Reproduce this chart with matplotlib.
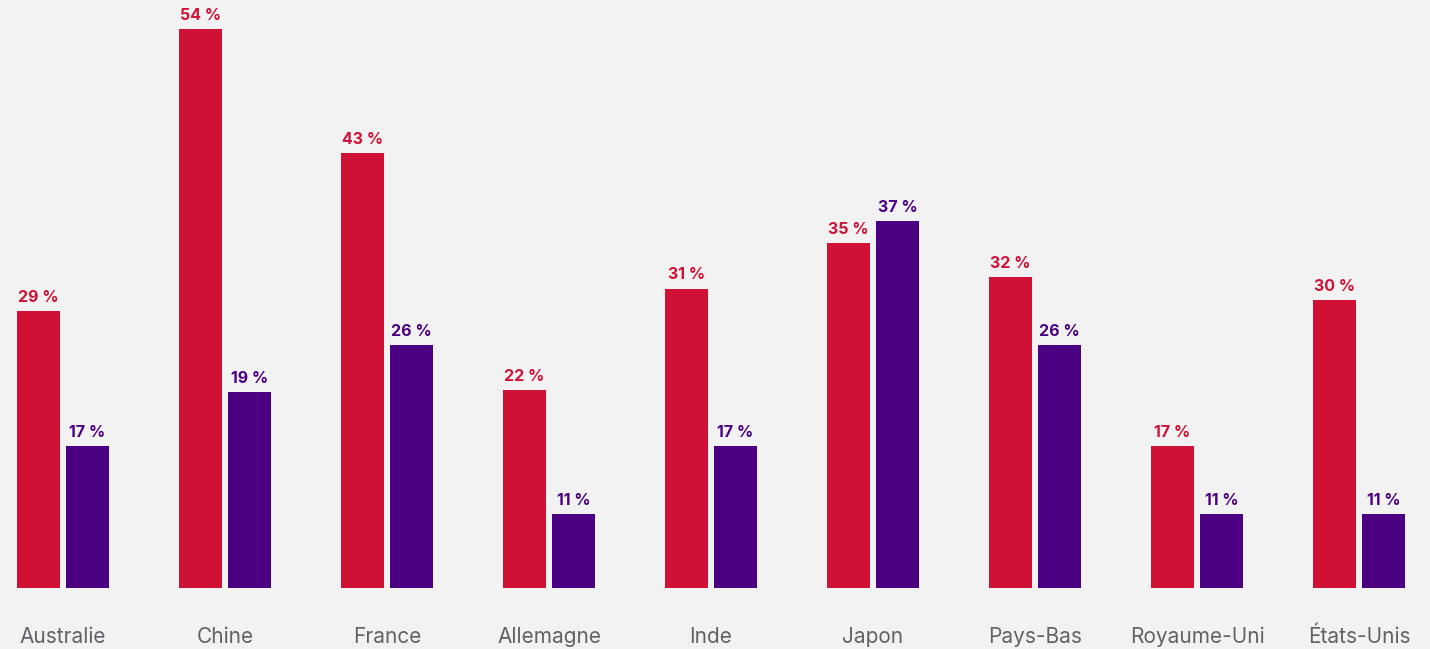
import numpy as np
import matplotlib.pyplot as plt

plt.rcParams['font.family'] = ['Inter', 'DejaVu Sans']

# données
pays = ['Australie', 'Chine', 'France', 'Allemagne', 'Inde', 'Japon',
        'Pays-Bas', 'Royaume-Uni', 'États-Unis']
serie_rouge = [29, 54, 43, 22, 31, 35, 32, 17, 30]
serie_violet = [17, 21.8, 26, 11, 17, 37, 26, 11, 11]  # barre Chine dessinée plus haute que son étiquette
etiq_rouge = ['29 %', '54 %', '43 %', '22 %', '31 %', '35 %', '32 %', '17 %', '30 %']
etiq_violet = ['17 %', '19 %', '26 %', '11 %', '17 %', '37 %', '26 %', '11 %', '11 %']

rouge = '#cf1136'
violet = '#4b0082'
fond = '#f2f2f2'

fig = plt.figure(figsize=(14.30, 6.49), dpi=100, facecolor=fond)
ax = fig.add_axes([0, (649 - 588) / 649, 1, 588 / 649])
ax.set_facecolor(fond)

x = np.arange(len(pays))
w = 43 / 162
d = 49 / 2 / 162
b1 = ax.bar(x - d, serie_rouge, w, color=rouge)
b2 = ax.bar(x + d, serie_violet, w, color=violet)

for rects, vals, labs, c in [(b1, serie_rouge, etiq_rouge, rouge),
                             (b2, serie_violet, etiq_violet, violet)]:
    for r, v, t in zip(rects, vals, labs):
        ax.annotate(t, (r.get_x() + r.get_width() / 2, v),
                    xytext=(0, 4.5), textcoords='offset points',
                    ha='center', va='bottom', fontsize=11.5,
                    fontweight='bold', color=c)

ax.set_xlim(-63 / 162, (1430 - 63) / 162)
ax.set_ylim(4.44, 56.6)
ax.set_xticks(x)
ax.set_xticklabels(pays, fontsize=15, color='#5f6368')
ax.tick_params(axis='x', length=0, pad=28)
ax.set_yticks([])
for s in ax.spines.values():
    s.set_visible(False)

fig.savefig('out.png', dpi=100, facecolor=fond)
